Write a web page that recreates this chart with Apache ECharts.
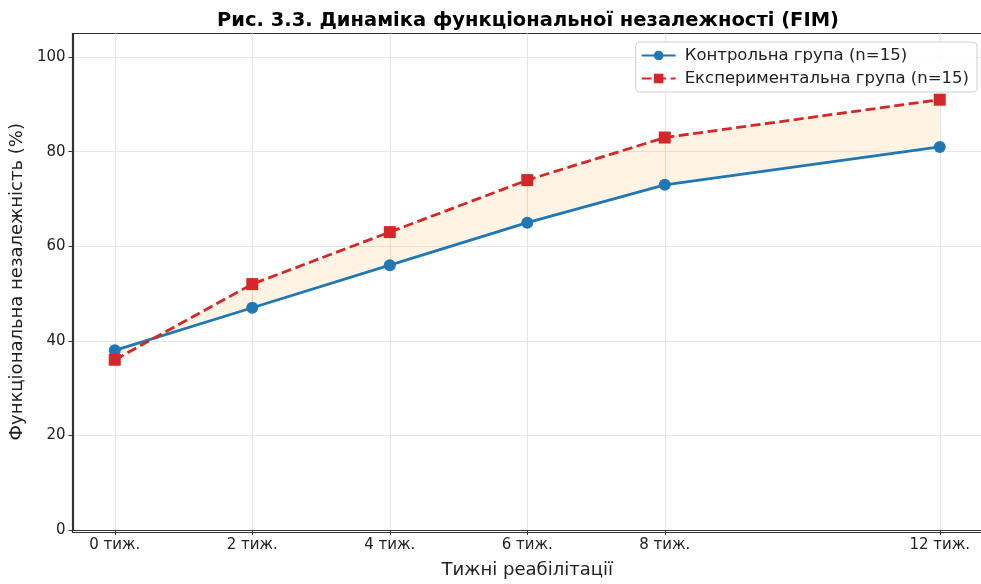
<!DOCTYPE html>
<html>
<head>
<meta charset="utf-8">
<title>FIM</title>
<script src="https://cdn.jsdelivr.net/npm/echarts@6/dist/echarts.min.js"></script>
<style>
*{ margin:0; padding:0; }
#chart{ width:981px; height:584px; background:#fff; }
</style>
</head>
<body>
<div id="chart"></div>
<script>
// дані
var weeks = [0, 2, 4, 6, 8, 12];
var weekLabels = ['0 тиж.', '2 тиж.', '4 тиж.', '6 тиж.', '8 тиж.', '12 тиж.'];
var control = [38, 47, 56, 65, 73, 81];
var experimental = [36, 52, 63, 74, 83, 91];
var yTicks = [0, 20, 40, 60, 80, 100];

var font = 'DejaVu Sans';

function pairs(vals) {
    return weeks.map(function (w, i) { return [w, vals[i]]; });
}
// відрізки для заливки між лініями
var bands = [];
for (var i = 0; i < weeks.length - 1; i++) {
    bands.push([weeks[i], weeks[i + 1], control[i], control[i + 1], experimental[i], experimental[i + 1]]);
}

var chart = echarts.init(document.getElementById('chart'));
var option = {
    animation: false,
    textStyle: { fontFamily: font },
    title: {
        text: 'Рис. 3.3. Динаміка функціональної незалежності (FIM)',
        left: 523, top: 6, textAlign: 'center',
        textStyle: { fontFamily: font, fontWeight: 'bold', fontSize: 19.5, color: '#000' }
    },
    legend: {
        data: ['Контрольна група (n=15)', 'Експериментальна група (n=15)'],
        orient: 'vertical',
        right: 4, top: 42,
        itemWidth: 34, itemHeight: 12, itemGap: 6,
        padding: [5, 8, 5, 5],
        borderColor: '#d0d0d0', borderWidth: 1, borderRadius: 4,
        backgroundColor: 'rgba(255,255,255,0.85)',
        textStyle: { fontFamily: font, fontSize: 16.5, color: '#222', padding: [0, 0, 0, 4] }
    },
    grid: { left: 72.5, top: 33.5, width: 912, height: 499 },
    xAxis: {
        type: 'value',
        min: -0.6, max: 12.6,
        name: 'Тижні реабілітації',
        nameLocation: 'middle', nameGap: 31,
        nameTextStyle: { fontFamily: font, fontSize: 18, color: '#222' },
        axisLine: { onZero: false, lineStyle: { color: '#333', width: 1.2 } },
        axisTick: { customValues: weeks, length: 5, lineStyle: { color: '#333' } },
        axisLabel: {
            customValues: weeks, fontSize: 15, color: '#222', margin: 8,
            formatter: function (v) { return weekLabels[weeks.indexOf(v)]; }
        },
        splitLine: { show: true, lineStyle: { color: '#e6e6e6', width: 1 } }
    },
    yAxis: {
        type: 'value',
        min: 0, max: 105, interval: 20,
        name: 'Функціональна незалежність (%)',
        nameLocation: 'middle', nameGap: 43,
        nameTextStyle: { fontFamily: font, fontSize: 18, color: '#222' },
        axisLine: { show: true, onZero: false, lineStyle: { color: '#333', width: 1.2 } },
        axisTick: { show: true, customValues: yTicks, length: 5, lineStyle: { color: '#333' } },
        axisLabel: { customValues: yTicks, fontSize: 15, color: '#222', margin: 8 },
        splitLine: { show: true, lineStyle: { color: '#e6e6e6', width: 1 } }
    },
    series: [
        {
            name: 'fill', type: 'custom', data: bands, silent: true, z: 1,
            encode: { x: [0, 1], y: [2, 3, 4, 5] },
            renderItem: function (params, api) {
                var p = [
                    api.coord([api.value(0), api.value(2)]),
                    api.coord([api.value(1), api.value(3)]),
                    api.coord([api.value(1), api.value(5)]),
                    api.coord([api.value(0), api.value(4)])
                ];
                return {
                    type: 'polygon',
                    shape: { points: p },
                    style: { fill: 'rgba(255,170,40,0.13)', stroke: 'rgba(255,170,40,0.13)', lineWidth: 0.5 }
                };
            }
        },
        {
            name: 'Контрольна група (n=15)', type: 'line', data: pairs(control),
            symbol: 'circle', symbolSize: 12,
            itemStyle: { color: '#1f77b4' },
            lineStyle: { color: '#1f77b4', width: 2.8 }, z: 3
        },
        {
            name: 'Експериментальна група (n=15)', type: 'line', data: pairs(experimental),
            symbol: 'rect', symbolSize: 12,
            itemStyle: { color: '#d62728' },
            lineStyle: { color: '#d62728', width: 2.8, type: [10, 4.5] }, z: 4
        }
    ],
    graphic: [{
        type: 'rect', silent: true, z: 0,
        shape: { x: 72.5, y: 33.5, width: 912, height: 499 },
        style: { fill: 'none', stroke: '#333', lineWidth: 1.2 }
    }]
};
chart.setOption(option);
</script>
</body>
</html>
